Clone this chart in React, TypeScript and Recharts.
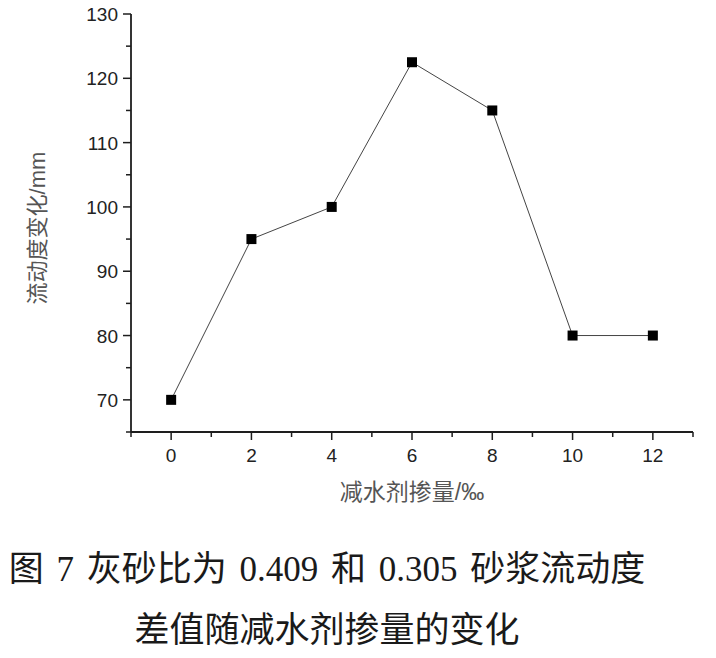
import React from 'react';
import { LineChart, Line, XAxis, YAxis } from 'recharts';

const dosage = [0, 2, 4, 6, 8, 10, 12];
const flowChange = [70, 95, 100, 122.5, 115, 80, 80];
const xTicks = [-1, 0, 1, 2, 3, 4, 5, 6, 7, 8, 9, 10, 11, 12, 13];
const yTicks = [65, 70, 75, 80, 85, 90, 95, 100, 105, 110, 115, 120, 125, 130];
const xTitle = '减水剂掺量/‰';
const yTitle = '流动度变化/mm';
const captionLine1 = '图 7 灰砂比为 0.409 和 0.305 砂浆流动度';
const captionLine2 = '差值随减水剂掺量的变化';

const data = dosage.map((x, i) => ({ x, y: flowChange[i] }));

const tickFont = '"Liberation Sans", Arial, sans-serif';
const axisColor = '#1e1e1e';

const XTick = (props: any) => {
  const { x, y, payload } = props;
  const v = payload.value;
  const major = v % 2 === 0;
  return (
    <g>
      <line x1={x} y1={y} x2={x} y2={y + (major ? 8 : 5)} stroke={axisColor} strokeWidth={1.5} />
      {major && (
        <text x={x} y={y + 30} textAnchor="middle" fontSize={19} fontFamily={tickFont} fill="#222">
          {v}
        </text>
      )}
    </g>
  );
};

const YTick = (props: any) => {
  const { x, y, payload } = props;
  const v = payload.value;
  const major = v % 10 === 0;
  return (
    <g>
      <line x1={x - (major ? 8 : 5)} y1={y} x2={x} y2={y} stroke={axisColor} strokeWidth={1.5} />
      {major && (
        <text x={x - 13} y={y + 7} textAnchor="end" fontSize={19} fontFamily={tickFont} fill="#222">
          {v}
        </text>
      )}
    </g>
  );
};

const SquareDot = (p: any) => (
  <rect key={`d-${p.index}`} x={p.cx - 5} y={p.cy - 5} width={10} height={10} fill="#000" />
);

export default function App() {
  return (
    <div style={{ position: 'absolute', left: 0, top: 0, width: 716, height: 658, background: '#fff' }}>
      <LineChart width={716} height={658} data={data} margin={{ top: 14, right: 23, bottom: 0, left: 0 }}>
        <XAxis
          dataKey="x"
          type="number"
          domain={[-1, 13]}
          ticks={xTicks}
          interval={0}
          height={226}
          tickSize={0}
          tickMargin={0}
          tickLine={false}
          tick={XTick}
          axisLine={{ stroke: axisColor, strokeWidth: 1.8 }}
        />
        <XAxis
          xAxisId="top"
          orientation="top"
          type="number"
          domain={[-1, 13]}
          height={0}
          tick={false}
          tickLine={false}
          axisLine={{ stroke: axisColor, strokeWidth: 1.8 }}
        />
        <YAxis
          type="number"
          domain={[65, 130]}
          ticks={yTicks}
          interval={0}
          width={131}
          tickSize={0}
          tickMargin={0}
          tickLine={false}
          tick={YTick}
          axisLine={{ stroke: axisColor, strokeWidth: 1.8 }}
        />
        <YAxis
          yAxisId="right"
          orientation="right"
          type="number"
          domain={[65, 130]}
          width={0}
          tick={false}
          tickLine={false}
          axisLine={{ stroke: axisColor, strokeWidth: 1.8 }}
        />
        <Line
          type="linear"
          dataKey="y"
          stroke="#444"
          strokeWidth={1}
          dot={SquareDot}
          activeDot={false}
          isAnimationActive={false}
        />
      </LineChart>
      <div
        style={{
          position: 'absolute',
          left: 38,
          top: 228,
          transform: 'translate(-50%, -50%) rotate(-90deg)',
          whiteSpace: 'nowrap',
          fontFamily: '"Liberation Sans", "Noto Sans CJK SC", sans-serif',
          fontSize: 22,
          color: '#555',
          lineHeight: 1,
        }}
      >
        {yTitle}
      </div>
      <div
        style={{
          position: 'absolute',
          left: 412,
          top: 492,
          transform: 'translate(-50%, -50%)',
          whiteSpace: 'nowrap',
          fontFamily: '"Liberation Sans", "Noto Sans CJK SC", sans-serif',
          fontSize: 23,
          color: '#555',
          lineHeight: 1,
        }}
      >
        {xTitle}
      </div>
      <div
        style={{
          position: 'absolute',
          left: 0,
          width: 654,
          top: 552,
          textAlign: 'center',
          whiteSpace: 'pre',
          wordSpacing: 4,
          fontFamily: '"Liberation Serif", "Noto Sans CJK SC", serif',
          fontSize: 35,
          lineHeight: '35px',
          color: '#1a1a1a',
        }}
      >
        {captionLine1}
      </div>
      <div
        style={{
          position: 'absolute',
          left: 0,
          width: 654,
          top: 613,
          textAlign: 'center',
          whiteSpace: 'pre',
          fontFamily: '"Liberation Serif", "Noto Sans CJK SC", serif',
          fontSize: 35,
          lineHeight: '35px',
          color: '#1a1a1a',
        }}
      >
        {captionLine2}
      </div>
    </div>
  );
}
